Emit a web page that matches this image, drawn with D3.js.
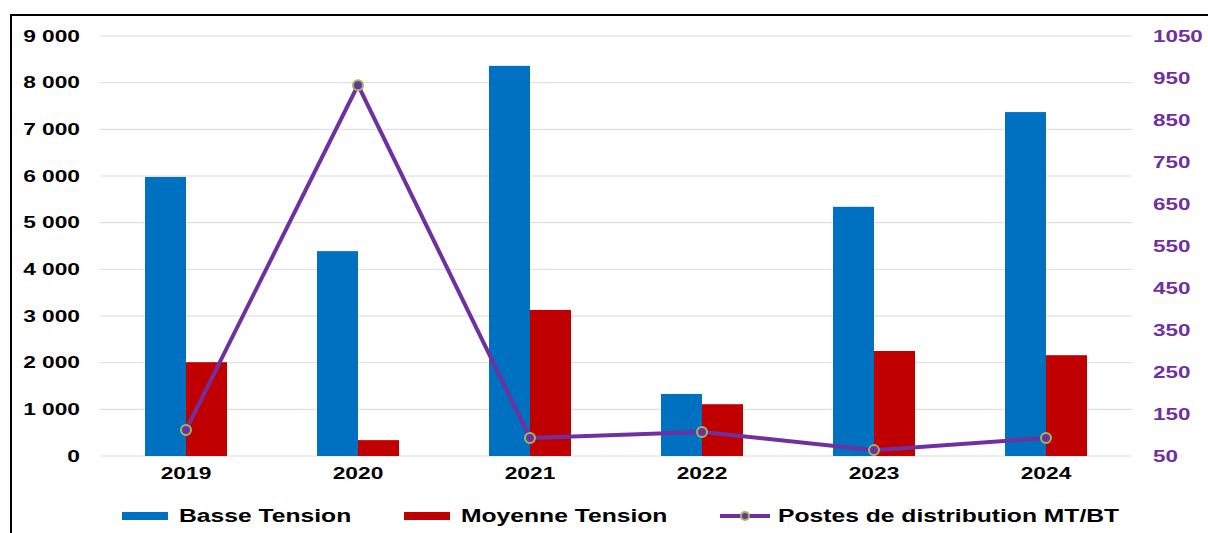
<!DOCTYPE html>
<html>
<head>
<meta charset="utf-8">
<script src="https://d3js.org/d3.v7.min.js"></script>
<style>
  body { margin: 0; background: #fff; }
  svg { display: block; font-family: "Liberation Sans", Arial, sans-serif; font-weight: bold; }
</style>
</head>
<body>
<div id="chart"></div>
<script>
// chart values
const years = ['2019', '2020', '2021', '2022', '2023', '2024'];
const basseTension = [5980, 4390, 8360, 1330, 5340, 7370];
const moyenneTension = [2010, 340, 3130, 1110, 2250, 2160];
const postes = [112, 933, 93, 107, 64, 93];
const leftTicks = [0, 1000, 2000, 3000, 4000, 5000, 6000, 7000, 8000, 9000];
const rightTicks = [50, 150, 250, 350, 450, 550, 650, 750, 850, 950, 1050];

const W = 1208, H = 533;
const margin = {top: 36, right: 76, bottom: 77, left: 100};
const innerW = W - margin.left - margin.right;
const innerH = H - margin.top - margin.bottom;

const svg = d3.select('#chart').append('svg')
    .attr('width', W)
    .attr('height', H);

// the reference text looks horizontally stretched
function stretch(sel, k) {
    sel.each(function() {
        const len = this.getComputedTextLength();
        d3.select(this)
            .attr('textLength', len * k)
            .attr('lengthAdjust', 'spacingAndGlyphs');
    });
}

// outer frame
svg.append('path')
    .attr('d', `M11,${H} V15 H${W}`)
    .attr('fill', 'none')
    .attr('stroke', '#000')
    .attr('stroke-width', 2);

const g = svg.append('g')
    .attr('transform', `translate(${margin.left},${margin.top})`);

const x = d3.scaleBand().domain(years).range([0, innerW]);
const yL = d3.scaleLinear().domain([0, 9000]).range([innerH, 0]);
const yR = d3.scaleLinear().domain([50, 1050]).range([innerH, 0]);

const fmt = v => d3.format(',')(v).replace(/,/g, ' ');

// gridlines
g.append('g').selectAll('line')
    .data(leftTicks)
    .join('line')
    .attr('x1', 0).attr('x2', innerW)
    .attr('y1', d => yL(d)).attr('y2', d => yL(d))
    .attr('stroke', '#d9d9d9')
    .attr('stroke-width', 1);

// left axis
const axL = g.append('g')
    .call(d3.axisLeft(yL).tickValues(leftTicks).tickFormat(fmt).tickSize(0).tickPadding(20));
axL.select('.domain').remove();
axL.selectAll('text').attr('font-size', 16).attr('font-weight', 'bold').attr('fill', '#000')
    .attr('font-family', '"Liberation Sans", Arial, sans-serif');

// right axis
const axR = g.append('g')
    .attr('transform', `translate(${innerW},0)`)
    .call(d3.axisRight(yR).tickValues(rightTicks).tickFormat(d3.format('d')).tickSize(0).tickPadding(21));
axR.select('.domain').remove();
axR.selectAll('text').attr('font-size', 16).attr('font-weight', 'bold').attr('fill', '#7030A0')
    .attr('font-family', '"Liberation Sans", Arial, sans-serif');

// x axis
const axX = g.append('g')
    .attr('transform', `translate(0,${innerH})`)
    .call(d3.axisBottom(x).tickSize(0).tickPadding(12));
axX.select('.domain').remove();
axX.selectAll('text').attr('font-size', 16).attr('font-weight', 'bold').attr('fill', '#000')
    .attr('font-family', '"Liberation Sans", Arial, sans-serif');

// bars
const barW = 41;
const rows = years.map((y, i) => ({year: y, bt: basseTension[i], mt: moyenneTension[i], p: postes[i]}));
const cx = d => x(d) + x.bandwidth() / 2;

g.append('g').selectAll('rect')
    .data(rows)
    .join('rect')
    .attr('x', d => cx(d.year) - barW)
    .attr('width', barW)
    .attr('y', d => yL(d.bt))
    .attr('height', d => innerH - yL(d.bt))
    .attr('fill', '#0070C0');

g.append('g').selectAll('rect')
    .data(rows)
    .join('rect')
    .attr('x', d => cx(d.year))
    .attr('width', barW)
    .attr('y', d => yL(d.mt))
    .attr('height', d => innerH - yL(d.mt))
    .attr('fill', '#C00000');

// line
const line = d3.line()
    .x(d => cx(d.year))
    .y(d => yR(d.p));

g.append('path')
    .datum(rows)
    .attr('d', line)
    .attr('fill', 'none')
    .attr('stroke', '#7030A0')
    .attr('stroke-width', 4);

g.append('g').selectAll('circle')
    .data(rows)
    .join('circle')
    .attr('cx', d => cx(d.year))
    .attr('cy', d => yR(d.p))
    .attr('r', 5)
    .attr('fill', '#7030A0')
    .attr('stroke', '#9BBB59')
    .attr('stroke-width', 2);

// legend
const legendY = 516;
const legend = svg.append('g');
const items = [
    {label: 'Basse Tension', color: '#0070C0', x: 122, type: 'bar'},
    {label: 'Moyenne Tension', color: '#C00000', x: 404, type: 'bar'},
    {label: 'Postes de distribution MT/BT', color: '#7030A0', x: 720, type: 'line'}
];
items.forEach(it => {
    if (it.type === 'bar') {
        legend.append('rect')
            .attr('x', it.x).attr('y', legendY - 4)
            .attr('width', 46).attr('height', 8)
            .attr('fill', it.color);
    } else {
        legend.append('line')
            .attr('x1', it.x).attr('x2', it.x + 50)
            .attr('y1', legendY).attr('y2', legendY)
            .attr('stroke', it.color).attr('stroke-width', 4);
        legend.append('circle')
            .attr('cx', it.x + 25).attr('cy', legendY).attr('r', 4)
            .attr('fill', it.color).attr('stroke', '#9BBB59').attr('stroke-width', 2);
    }
    legend.append('text')
        .attr('x', it.x + (it.type === 'bar' ? 57 : 58))
        .attr('y', legendY)
        .attr('dy', '0.36em')
        .attr('font-size', 18)
        .attr('fill', '#000')
        .text(it.label);
});

stretch(axL.selectAll('text'), 1.42);
stretch(axR.selectAll('text'), 1.4);
stretch(axX.selectAll('text'), 1.42);
stretch(legend.selectAll('text'), 1.37);
</script>
</body>
</html>
